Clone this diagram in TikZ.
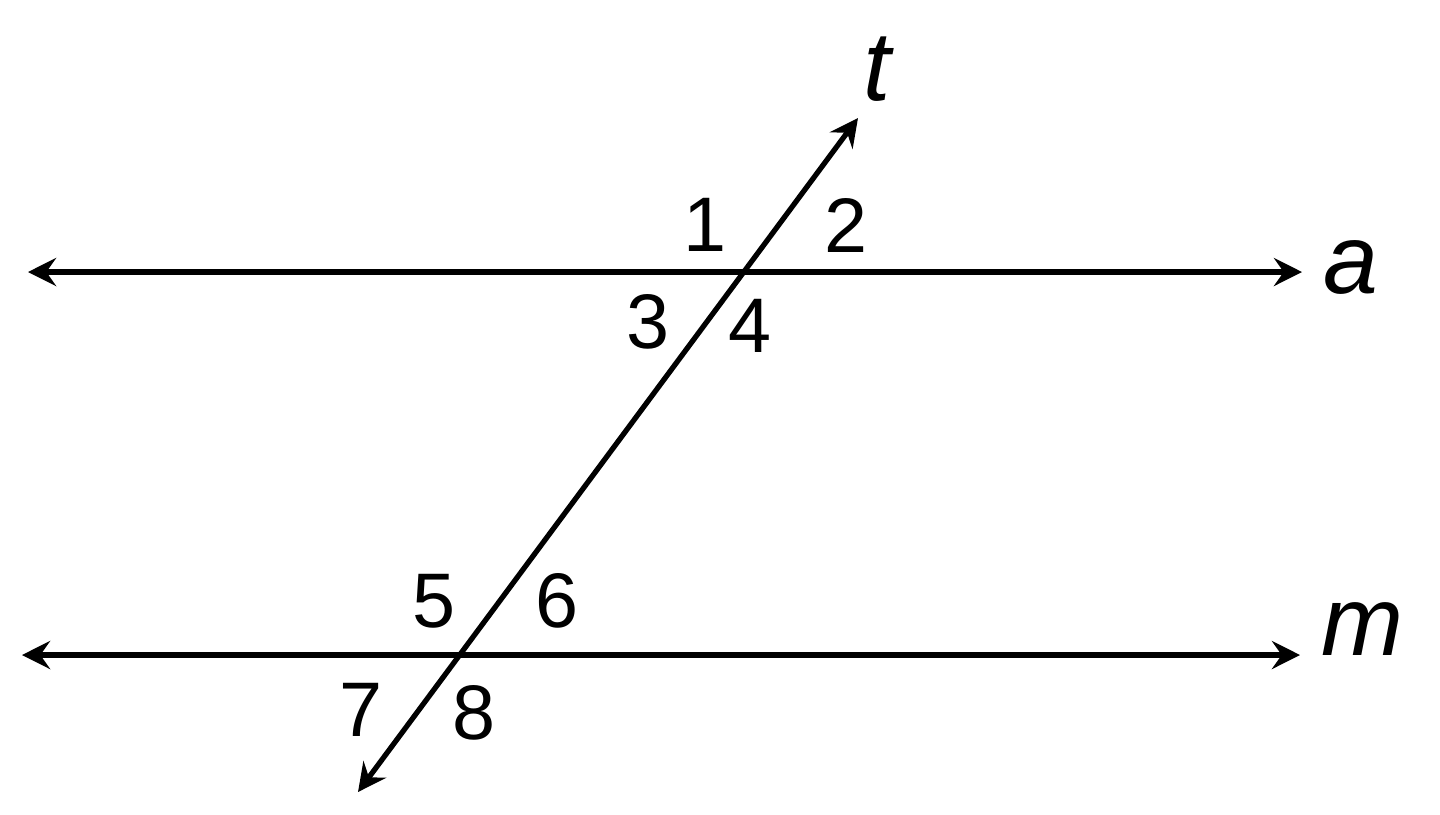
\documentclass[tikz,border=0pt]{standalone}
\usepackage{fontspec}
\setmainfont{Liberation Sans}
\usepackage[svgnames]{xcolor}
\usetikzlibrary{arrows.meta}

\begin{document}
\begin{tikzpicture}[
            > = {Stealth[length=8pt,width=8pt,inset=2.8pt]}, % arrow head style
            line width = 1.5pt,
            x = 0.01cm, y = -0.01cm, % one unit is one pixel, y downwards
        ]

        \tikzstyle{angle}=[
            inner sep = 0pt,
            font = \fontsize{22}{24}\selectfont
        ]
        \tikzstyle{lineName}=[
            inner sep = 0pt,
            font = \fontsize{28}{30}\selectfont\itshape
        ]

  \useasboundingbox (0,0) rectangle (1440,814);

  % line ends
  \coordinate (aL) at (28,272);
  \coordinate (aR) at (1302,272);
  \coordinate (mL) at (22,655);
  \coordinate (mR) at (1300,655);
  \coordinate (tB) at (358,792);
  \coordinate (tT) at (858,118);

  \node[lineName] (na) at (1351,267) {a};
  \node[lineName] (nm) at (1362,629) {m};
  \node[lineName] (nt) at (877,69) {t};

  \node[angle] (n1) at (705,225) {1};
  \node[angle] (n2) at (846,225) {2};
  \node[angle] (n3) at (648,322) {3};
  \node[angle] (n4) at (750,326) {4};
  \node[angle] (n5) at (434,601) {5};
  \node[angle] (n6) at (557,601) {6};
  \node[angle] (n7) at (361,710) {7};
  \node[angle] (n8) at (474,713) {8};

  \draw[<->] (aL) -- (aR);
  \draw[<->] (mL) -- (mR);
  \draw[<->] (tB) -- (tT);

\end{tikzpicture}
\end{document}
